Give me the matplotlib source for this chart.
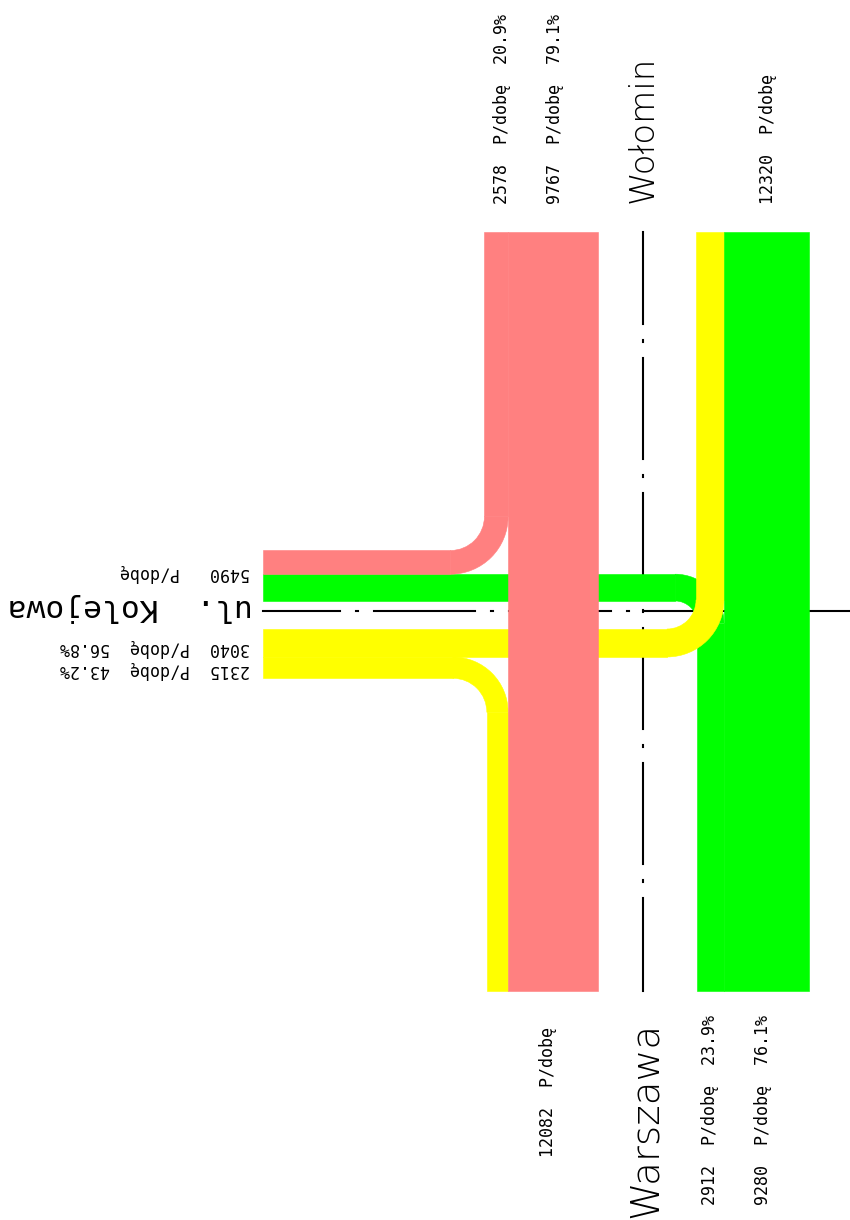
import matplotlib
matplotlib.use("Agg")
import matplotlib.pyplot as plt
from matplotlib.patches import Rectangle, Wedge
import numpy as np

# ---------------- data ----------------
origins = ["Wołomin", "Wołomin", "Kolejowa", "Kolejowa", "Warszawa", "Warszawa"]
destinations = ["Kolejowa", "Warszawa", "Wołomin", "Warszawa", "Kolejowa", "Wołomin"]
volumes = [2578, 9767, 3040, 2315, 2912, 9280]
flow_colors = ["#FF8080", "#FF8080", "#FFFF00", "#FFFF00", "#00FF00", "#00FF00"]
unit = "P/dobę"

vol = dict(zip(zip(origins, destinations), volumes))
col = dict(zip(zip(origins, destinations), flow_colors))
orig_tot = {o: sum(v for (a, b), v in vol.items() if a == o) for o in set(origins)}
dest_tot = {d: sum(v for (a, b), v in vol.items() if b == d) for d in set(destinations)}

def lab(o, d):
    v = vol[(o, d)]
    return f"{v}  {unit}  {100 * v / orig_tot[o]:.1f}%"

# ---------------- layout ----------------
K = 0.0092            # px per vehicle
Y_TOP, Y_BOT, X_WEST = 232, 991, 263
SB_EDGE, NB_EDGE = 598, 724
WB_EDGE, EB_EDGE = 601, 629
w = {k: v * K for k, v in vol.items()}

fig = plt.figure(figsize=(8.5, 12.2), dpi=100)
ax = fig.add_axes([0, 0, 1, 1])
ax.set_xlim(0, 850)
ax.set_ylim(1220, 0)
ax.set_aspect("equal")
ax.axis("off")

def rect(x0, y0, x1, y1, c, z):
    ax.add_patch(Rectangle((x0, y0), x1 - x0, y1 - y0, facecolor=c,
                           edgecolor=c, lw=0.4, zorder=z))

def arc(cx, cy, rin, width, t1, t2, c, z):
    ax.add_patch(Wedge((cx, cy), rin + width, t1, t2, width=width,
                       facecolor=c, edgecolor=c, lw=0.4, zorder=z))

# centre lines (dash-dot)
def dashdot(fixed, start, end, dot0, period, vertical):
    dots = np.arange(dot0 - period * 10, end + period, period)
    for d in dots:
        a, b = max(d + 17, start), min(d + period - 17, end)
        if b > a:
            if vertical:
                ax.plot([fixed, fixed], [a, b], color="black", lw=1.5, zorder=1)
            else:
                ax.plot([a, b], [fixed, fixed], color="black", lw=1.5, zorder=1)
        if start <= d <= end:
            if vertical:
                ax.plot([fixed, fixed], [d - 1, d + 1], color="black", lw=1.5, zorder=1)
            else:
                ax.plot([d - 1, d + 1], [fixed, fixed], color="black", lw=1.5, zorder=1)

dashdot(643, Y_TOP, Y_BOT, 610.5, 135, True)
dashdot(611, X_WEST, 850, 628, 135.5, False)

# green: Warszawa -> Kolejowa (left turn)
k = ("Warszawa", "Kolejowa"); ww = w[k]; c = col[k]
xb = NB_EDGE; xa = xb - ww; yb = WB_EDGE; ya = yb - ww
rin = 22; cx, cy = xa - rin, yb + rin
rect(xa, cy, xb, Y_BOT, c, 2); arc(cx, cy, rin, ww, 270, 360, c, 2); rect(X_WEST, ya, cx, yb, c, 2)

# yellow: Kolejowa -> Wołomin (left turn)
k = ("Kolejowa", "Wołomin"); ww = w[k]; c = col[k]
ya = EB_EDGE; yb = ya + ww; xb = NB_EDGE; xa = xb - ww
rin = 29; cx, cy = xa - rin, ya - rin
rect(xa, Y_TOP, xb, cy, c, 3); arc(cx, cy, rin, ww, 0, 90, c, 3); rect(X_WEST, ya, cx, yb, c, 3)

# yellow: Kolejowa -> Warszawa (right turn)
k = ("Kolejowa", "Warszawa"); ww = w[k]; c = col[k]
ya = EB_EDGE + w[("Kolejowa", "Wołomin")]; yb = ya + ww
xb = SB_EDGE - w[("Wołomin", "Warszawa")]; xa = xb - ww
rin = 34; cx, cy = xa - rin, yb + rin
rect(xa, cy, xb, Y_BOT, c, 3); arc(cx, cy, rin, ww, 270, 360, c, 3); rect(X_WEST, ya, cx, yb, c, 3)

# pink: Wołomin -> Kolejowa (right turn)
k = ("Wołomin", "Kolejowa"); ww = w[k]; c = col[k]
xb = SB_EDGE - w[("Wołomin", "Warszawa")]; xa = xb - ww
yb = WB_EDGE - w[("Warszawa", "Kolejowa")]; ya = yb - ww
rin = 34; cx, cy = xa - rin, ya - rin
rect(xa, Y_TOP, xb, cy, c, 3); arc(cx, cy, rin, ww, 0, 90, c, 3); rect(X_WEST, ya, cx, yb, c, 3)

# straight flows
k = ("Wołomin", "Warszawa")
rect(SB_EDGE - w[k], Y_TOP, SB_EDGE, Y_BOT, col[k], 4)
k = ("Warszawa", "Wołomin")
rect(NB_EDGE, Y_TOP, NB_EDGE + w[k], Y_BOT, col[k], 4)

# ---------------- text ----------------
mono = "DejaVu Sans Mono"
small = dict(family=mono, fontsize=12, color="black", rotation_mode="anchor",
             ha="left", va="baseline")
big = dict(family="DejaVu Sans", fontweight="light", color="black",
           rotation_mode="anchor", ha="left", va="baseline")

# top (Wołomin side)
ax.text(507, 204, lab("Wołomin", "Kolejowa"), rotation=90, **small)
ax.text(560, 204, lab("Wołomin", "Warszawa"), rotation=90, **small)
ax.text(653, 203, "Wołomin", rotation=90, fontsize=24.5, **big)
ax.text(773, 204, f"{dest_tot['Wołomin']}  {unit}", rotation=90, **small)

# bottom (Warszawa side)
ax.text(553, 1157, f"{dest_tot['Warszawa']}  {unit}", rotation=90, **small)
ax.text(657, 1218, "Warszawa", rotation=90, fontsize=28, **big)
ax.text(715, 1205, lab("Warszawa", "Kolejowa"), rotation=90, **small)
ax.text(768, 1205, lab("Warszawa", "Wołomin"), rotation=90, **small)

# west (ul. Kolejowa), upside down
ax.text(250, 568, f"{dest_tot['Kolejowa']}   {unit}", rotation=180, **small)
ax.text(253, 599, "ul.  Kolejowa", rotation=180, family=mono, fontsize=22.5,
        color="black", rotation_mode="anchor", ha="left", va="baseline")
ax.text(250, 643, lab("Kolejowa", "Wołomin"), rotation=180, **small)
ax.text(250, 665, lab("Kolejowa", "Warszawa"), rotation=180, **small)

fig.savefig("out.png", dpi=100, facecolor="white")
